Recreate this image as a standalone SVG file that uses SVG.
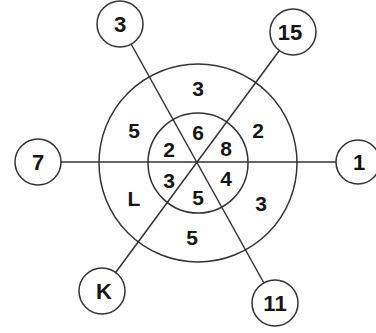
<svg xmlns="http://www.w3.org/2000/svg" width="376" height="333" viewBox="0 0 376 333">
<style>
.ring{fill:none;stroke:#333;stroke-width:1.5}
.node{fill:#fff;stroke:#333;stroke-width:1.5}
.ln{stroke:#333;stroke-width:1.5}
text{font-family:"Liberation Sans",Arial,sans-serif;font-weight:bold;fill:#151515;text-anchor:middle}
.t{font-size:21px}
.n{font-size:22px}
</style>
<rect width="376" height="333" fill="#fff"/>
<g id="connectors">
<line class="ln" x1="120" y1="24" x2="275" y2="303"/>
<line class="ln" x1="293" y1="32" x2="102" y2="291"/>
<line class="ln" x1="38" y1="162" x2="358" y2="162"/>
</g>
<g id="wheel">
<circle class="ring" cx="198" cy="163" r="99"/>
<circle class="ring" cx="198" cy="163" r="50"/>
<text class="t" x="198" y="95.5">3</text>
<text class="t" x="134" y="137.5">5</text>
<text class="t" x="258" y="137.5">2</text>
<text class="t" x="134" y="205.5">L</text>
<text class="t" x="261" y="210.5">3</text>
<text class="t" x="192" y="244.5">5</text>
<text class="t" x="198" y="139.5">6</text>
<text class="t" x="169" y="156.5">2</text>
<text class="t" x="226" y="155.5">8</text>
<text class="t" x="169" y="187.5">3</text>
<text class="t" x="226" y="185.5">4</text>
<text class="t" x="198" y="204.5">5</text>
</g>
<g id="node-3"><circle class="node" cx="120" cy="24" r="23"/><text class="n" x="120" y="32">3</text></g>
<g id="node-15"><circle class="node" cx="293" cy="32" r="23"/><text class="n" x="290" y="40">15</text></g>
<g id="node-7"><circle class="node" cx="38" cy="162" r="23"/><text class="n" x="38" y="170">7</text></g>
<g id="node-1"><circle class="node" cx="358" cy="162" r="22"/><text class="n" x="359" y="170">1</text></g>
<g id="node-K"><circle class="node" cx="102" cy="291" r="23"/><text class="n" x="104" y="299">K</text></g>
<g id="node-11"><circle class="node" cx="275" cy="303" r="23"/><text class="n" x="275" y="311">11</text></g>
</svg>
